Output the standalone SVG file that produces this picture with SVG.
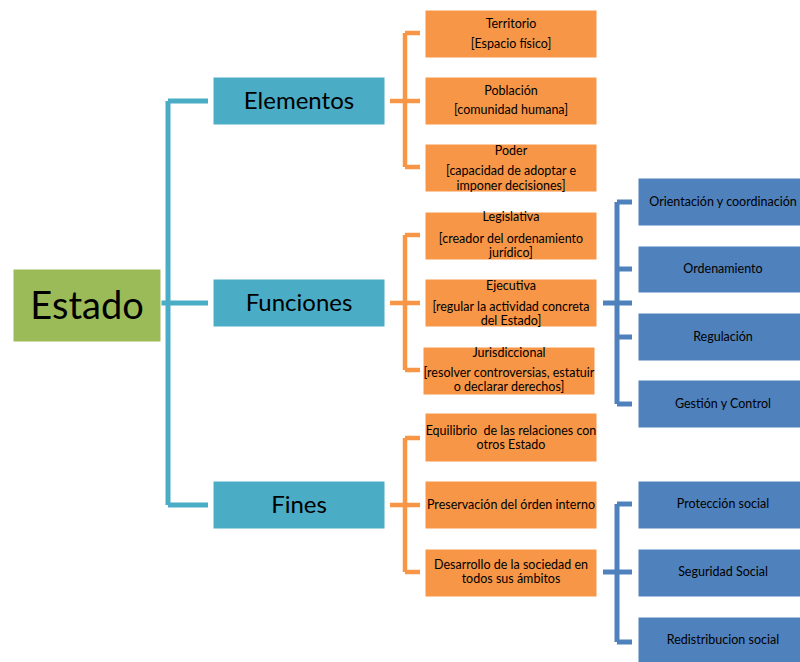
<svg xmlns="http://www.w3.org/2000/svg" width="800" height="662" viewBox="0 0 800 662">
<style>
text{font-family:Lato,"Open Sans","Liberation Sans",sans-serif;fill:#000;text-anchor:middle}
.s{font-size:12.5px}
.m{font-size:24px}
.l{font-size:38px}
.green{fill:#9BBB59}
.teal{fill:#4BACC6}
.org{fill:#F79646}
.blue{fill:#4F81BD}
.box{stroke:#fff;stroke-width:1}
.ct{fill:none;stroke:#4BACC6;stroke-width:5}
.co{fill:none;stroke:#F79646;stroke-width:4.5}
.cb{fill:none;stroke:#4F81BD;stroke-width:5}
</style>
<rect width="800" height="662" fill="#fff"/>
<g id="connectors">
<path class="ct" d="M161 303H208M168 101V505M168 101H208M168 505H208"/>
<path class="co" d="M390 101H420M405 33V167M405 33H420M405 167H420"/>
<path class="co" d="M390 303H420M405 235V370M405 235H420M405 370H420"/>
<path class="co" d="M390 505H420M405 438V572M405 438H420M405 572H420"/>
<path class="cb" d="M603 303H632M617 202V404M617 202H632M617 269H632M617 337H632M617 404H632"/>
<path class="cb" d="M603 572H632M617 504V642M617 504H632M617 642H632"/>
</g>
<g id="estado"><rect class="green box" x="13" y="269" width="148" height="73"/><text class="l" x="87" y="319">Estado</text></g>
<g id="elementos"><rect class="teal box" x="213" y="77" width="172" height="48"/><text class="m" x="299" y="109">Elementos</text></g>
<g id="funciones"><rect class="teal box" x="213" y="279" width="172" height="48"/><text class="m" x="299" y="311">Funciones</text></g>
<g id="fines"><rect class="teal box" x="213" y="481" width="172" height="48"/><text class="m" x="299" y="513">Fines</text></g>
<g id="territorio"><rect class="org box" x="425" y="10" width="172" height="48"/><text class="s" x="511" y="28">Territorio</text><text class="s" x="511" y="48">[Espacio físico]</text></g>
<g id="poblacion"><rect class="org box" x="425" y="77" width="172" height="48"/><text class="s" x="511" y="95">Población</text><text class="s" x="511" y="114">[comunidad humana]</text></g>
<g id="poder"><rect class="org box" x="425" y="144" width="172" height="48"/><text class="s" x="511" y="155">Poder</text><text class="s" x="511" y="175">[capacidad de adoptar e</text><text class="s" x="511" y="190">imponer decisiones]</text></g>
<g id="legislativa"><rect class="org box" x="425" y="212" width="172" height="48"/><text class="s" x="511" y="221">Legislativa</text><text class="s" x="511" y="243">[creador del ordenamiento</text><text class="s" x="511" y="257">jurídico]</text></g>
<g id="ejecutiva"><rect class="org box" x="425" y="279" width="172" height="48"/><text class="s" x="511" y="290">Ejecutiva</text><text class="s" x="511" y="311">[regular la actividad concreta</text><text class="s" x="511" y="325">del Estado]</text></g>
<g id="jurisdiccional"><rect class="org box" x="423" y="347" width="172" height="48"/><text class="s" x="509" y="357">Jurisdiccional</text><text class="s" x="509" y="377">[resolver controversias, estatuir</text><text class="s" x="509" y="391">o declarar derechos]</text></g>
<g id="equilibrio"><rect class="org box" x="425" y="413" width="172" height="49"/><text class="s" x="511" y="435" xml:space="preserve">Equilibrio  de las relaciones con</text><text class="s" x="511" y="449">otros Estado</text></g>
<g id="preservacion"><rect class="org box" x="425" y="481" width="172" height="48"/><text class="s" x="511" y="509">Preservación del órden interno</text></g>
<g id="desarrollo"><rect class="org box" x="425" y="549" width="172" height="48"/><text class="s" x="511" y="569">Desarrollo de la sociedad en</text><text class="s" x="511" y="583">todos sus ámbitos</text></g>
<g id="orientacion"><rect class="blue box" x="638" y="178" width="172" height="48"/><text class="s" x="723" y="206">Orientación y coordinación</text></g>
<g id="ordenamiento"><rect class="blue box" x="638" y="246" width="172" height="47"/><text class="s" x="723" y="273">Ordenamiento</text></g>
<g id="regulacion"><rect class="blue box" x="638" y="313" width="172" height="48"/><text class="s" x="723" y="341">Regulación</text></g>
<g id="gestion"><rect class="blue box" x="638" y="380" width="172" height="48"/><text class="s" x="723" y="408">Gestión y Control</text></g>
<g id="proteccion"><rect class="blue box" x="638" y="481" width="172" height="48"/><text class="s" x="723" y="508">Protección social</text></g>
<g id="seguridad"><rect class="blue box" x="638" y="549" width="172" height="48"/><text class="s" x="723" y="576">Seguridad Social</text></g>
<g id="redistribucion"><rect class="blue box" x="638" y="617" width="172" height="48"/><text class="s" x="723" y="644">Redistribucion social</text></g>
</svg>
